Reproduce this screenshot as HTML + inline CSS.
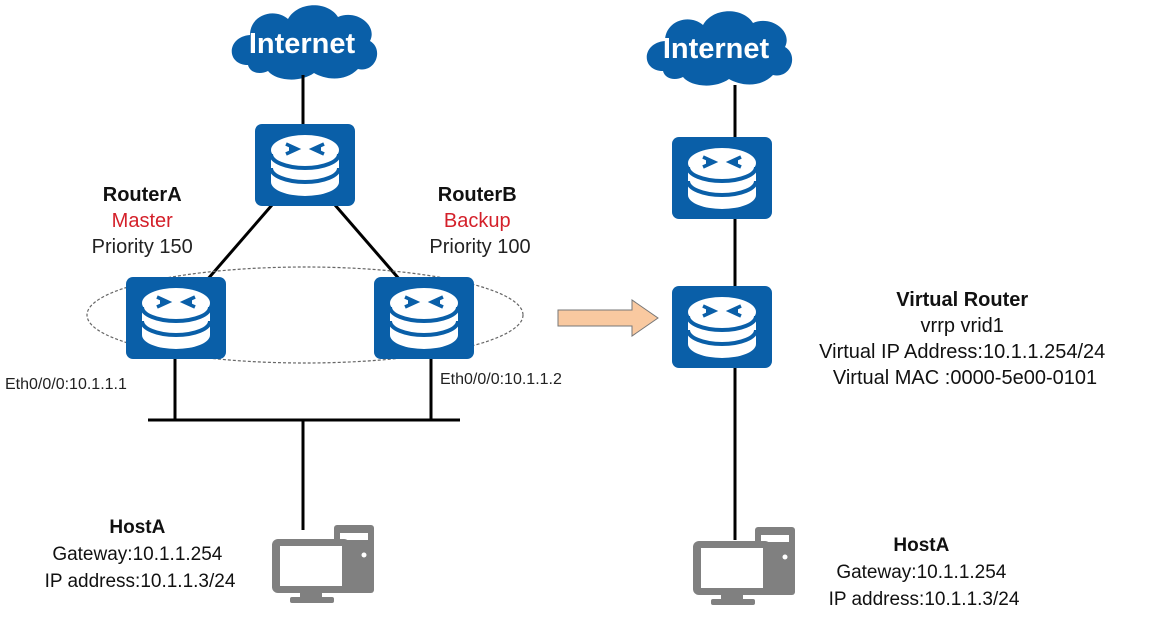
<!DOCTYPE html>
<html><head><meta charset="utf-8"><style>
html,body{margin:0;padding:0;background:#fff;}
svg{display:block;font-family:"Liberation Sans",sans-serif;}
</style></head><body>
<svg width="1157" height="617" viewBox="0 0 1157 617" xmlns="http://www.w3.org/2000/svg">
<defs>
<g id="rt">
<rect x="0" y="0" width="100" height="82" rx="7" fill="#0a5fa8"/>
<ellipse cx="50" cy="26" rx="34" ry="15" fill="#fff"/>
<path d="M16 30 v28 a34 14 0 0 0 68 0 v-28" fill="#fff"/>
<path d="M16 30 a34 14 0 0 0 68 0" fill="none" stroke="#0a5fa8" stroke-width="4"/>
<path d="M16 44 a34 14 0 0 0 68 0" fill="none" stroke="#0a5fa8" stroke-width="4"/>
<path d="M31 20 l11 5 l-11 5 M69 20 l-11 5 l11 5 M34 25 h8 M66 25 h-8" stroke="#0a5fa8" stroke-width="3.5" fill="none"/>
</g>
<g id="pc">
<rect x="62" y="0" width="40" height="68" rx="3" fill="#808080"/>
<rect x="68" y="8" width="28" height="7" fill="#fff"/>
<circle cx="92" cy="30" r="2.5" fill="#fff"/>
<rect x="0" y="14" width="78" height="54" rx="6" fill="#808080"/>
<rect x="8" y="21" width="62" height="40" fill="#fff"/>
<rect x="28" y="66" width="22" height="6" fill="#808080"/>
<rect x="18" y="72" width="44" height="6" rx="2" fill="#808080"/>
</g>
<g id="cloud">
<path d="M20 62 C-2 62 -2 34 22 32 C22 12 46 4 60 16 C70 -2 100 -2 110 14 C128 6 150 22 142 38 C156 46 148 70 130 66 C116 80 96 76 86 70 C72 80 48 78 40 68 C32 72 22 70 20 62 Z" fill="#0a5fa8"/>
</g>
</defs>
<use href="#cloud" x="228" y="3"/>
<text x="302" y="53" font-size="29" font-weight="bold" fill="#fff" text-anchor="middle">Internet</text>
<g stroke="#000" stroke-width="3" fill="none">
<line x1="303" y1="75" x2="303" y2="125"/>
<line x1="272" y1="205" x2="207" y2="280"/>
<line x1="335" y1="205" x2="400" y2="280"/>
<line x1="175" y1="358" x2="175" y2="420"/>
<line x1="431" y1="358" x2="431" y2="420"/>
<line x1="148" y1="420" x2="460" y2="420"/>
<line x1="303" y1="420" x2="303" y2="530"/>
<line x1="735" y1="85" x2="735" y2="138"/>
<line x1="735" y1="218" x2="735" y2="287"/>
<line x1="735" y1="366" x2="735" y2="540"/>
</g>
<ellipse cx="305" cy="315" rx="218" ry="48" fill="none" stroke="#666" stroke-width="1.2" stroke-dasharray="3,2"/>
<use href="#rt" x="255" y="124"/>
<use href="#rt" x="126" y="277"/>
<use href="#rt" x="374" y="277"/>
<text font-size="20" text-anchor="middle" fill="#222">
<tspan x="145" y="201" font-weight="bold" fill="#111">RouterA</tspan>
<tspan x="145" y="227" fill="#d4202a">Master</tspan>
<tspan x="145" y="253">Priority 150</tspan>
<tspan x="480" y="201" font-weight="bold" fill="#111">RouterB</tspan>
<tspan x="480" y="227" fill="#d4202a">Backup</tspan>
<tspan x="480" y="253">Priority 100</tspan>
</text>
<text x="5" y="389" font-size="16" fill="#222">Eth0/0/0:10.1.1.1</text>
<text x="440" y="384" font-size="16" fill="#222">Eth0/0/0:10.1.1.2</text>
<use href="#pc" x="272" y="525"/>
<text font-size="19" text-anchor="middle" fill="#111">
<tspan x="140" y="533" font-weight="bold">HostA</tspan>
<tspan x="140" y="560">Gateway:10.1.1.254</tspan>
<tspan x="140" y="587">IP address:10.1.1.3/24</tspan>
</text>
<path d="M558 310 H632 V300 L658 318 L632 336 V326 H558 Z" fill="#f9c9a0" stroke="#777" stroke-width="1"/>
<use href="#cloud" x="643" y="9"/>
<text x="716" y="58" font-size="29" font-weight="bold" fill="#fff" text-anchor="middle">Internet</text>
<use href="#rt" x="672" y="137"/>
<use href="#rt" x="672" y="286"/>
<text font-size="20" text-anchor="middle" fill="#111">
<tspan x="965" y="306" font-weight="bold">Virtual Router</tspan>
<tspan x="965" y="332">vrrp vrid1</tspan>
<tspan x="965" y="358">Virtual IP Address:10.1.1.254/24</tspan>
<tspan x="965" y="384">Virtual MAC :0000-5e00-0101</tspan>
</text>
<use href="#pc" x="693" y="527"/>
<text font-size="19" text-anchor="middle" fill="#111">
<tspan x="924" y="551" font-weight="bold">HostA</tspan>
<tspan x="924" y="578">Gateway:10.1.1.254</tspan>
<tspan x="924" y="605">IP address:10.1.1.3/24</tspan>
</text>
</svg>
</body></html>
